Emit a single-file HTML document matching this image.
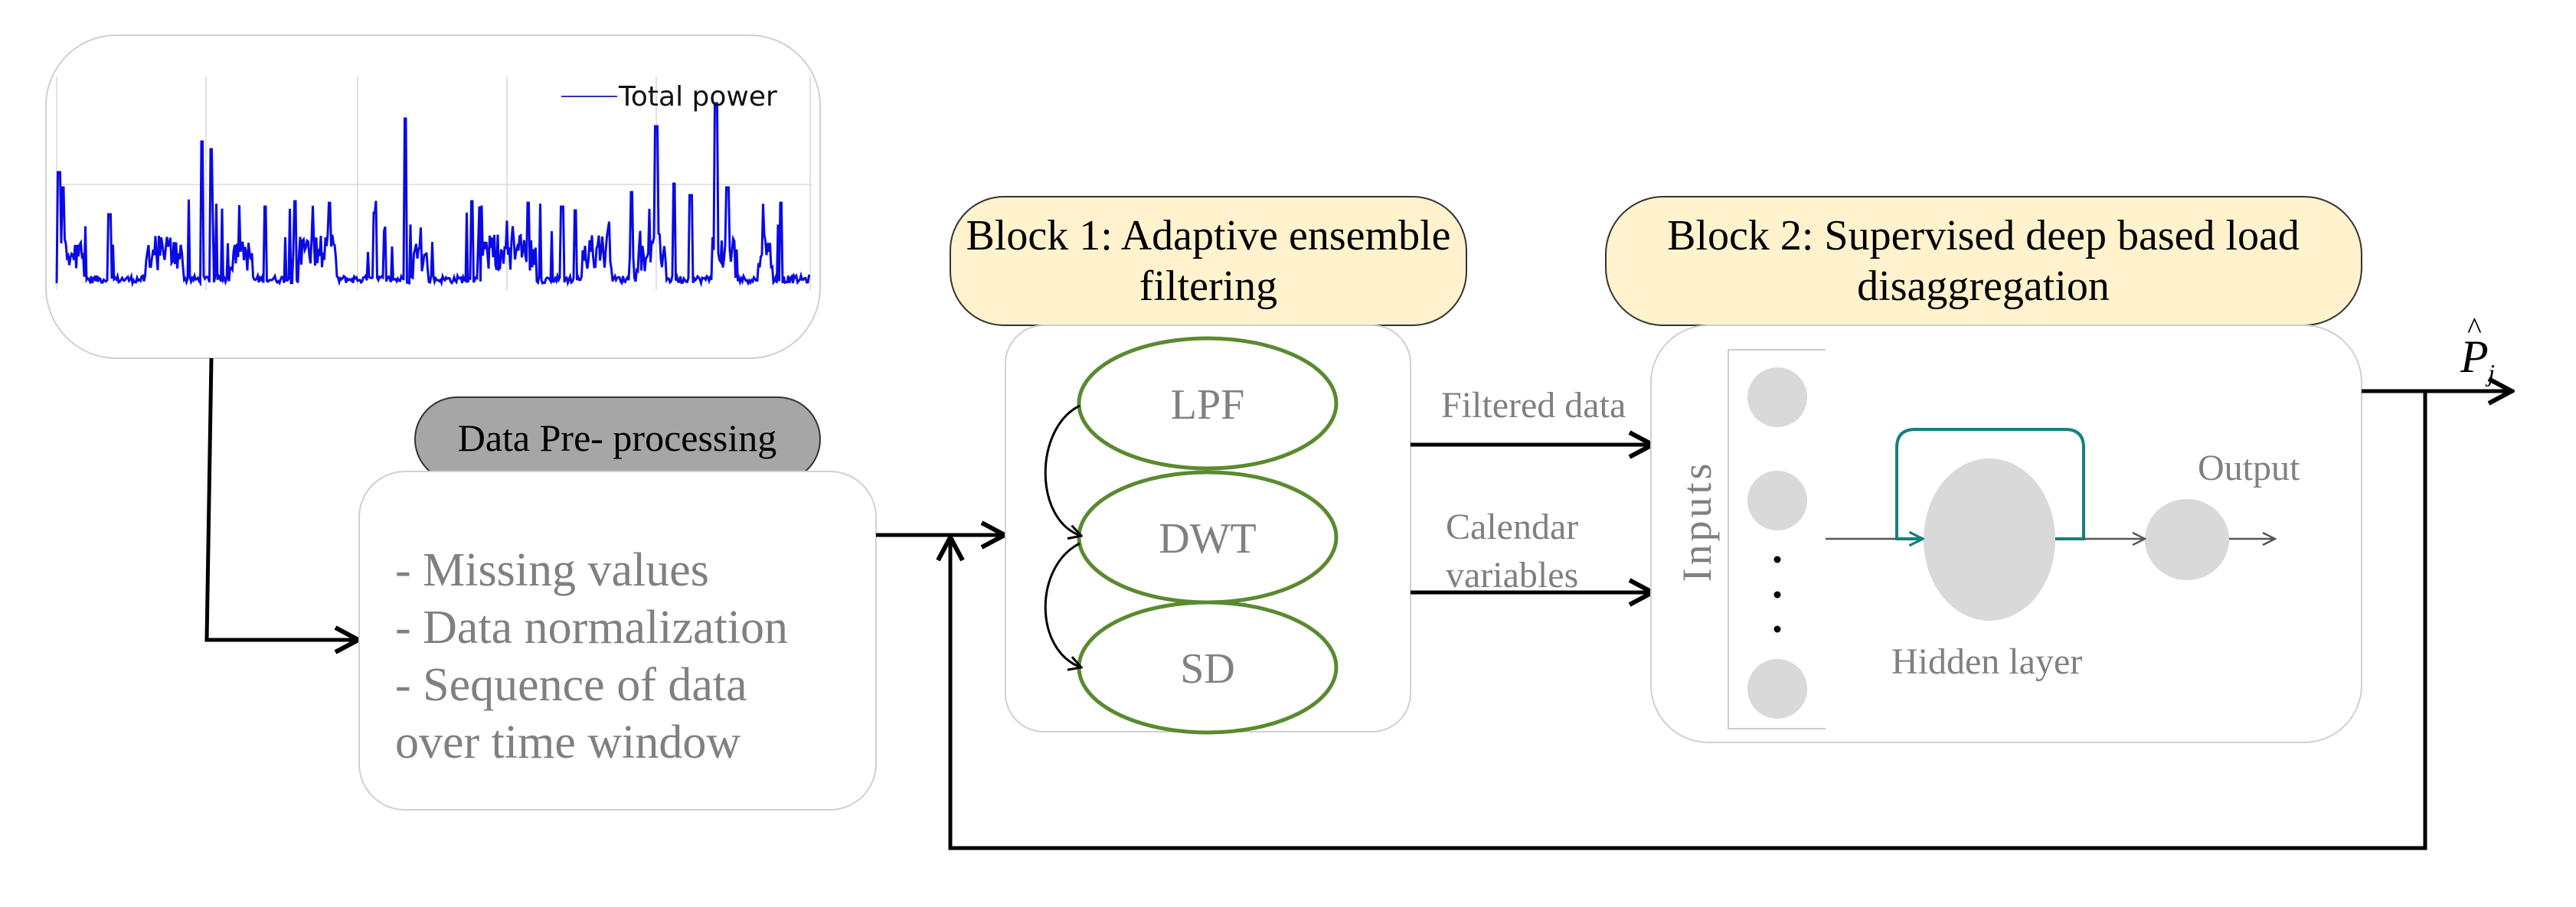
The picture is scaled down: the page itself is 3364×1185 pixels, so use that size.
<!DOCTYPE html>
<html><head><meta charset="utf-8"><style>
body{margin:0;background:#fff;}
svg text{font-family:"Liberation Serif",serif;}
</style></head><body>
<svg width="3364" height="1180" viewBox="0 0 3364 1180" xmlns="http://www.w3.org/2000/svg">
<defs>
<marker id="ah" viewBox="0 0 20 20" refX="18" refY="10" markerWidth="20" markerHeight="20" markerUnits="userSpaceOnUse" orient="auto"><path d="M2,1 L18,10 L2,19" fill="none" stroke="#000" stroke-width="3"/></marker>
<marker id="ahb" viewBox="0 0 40 40" refX="36" refY="20" markerWidth="40" markerHeight="40" markerUnits="userSpaceOnUse" orient="auto"><path d="M6,4 L36,20 L6,36" fill="none" stroke="#000" stroke-width="6"/></marker>
<marker id="ahg" viewBox="0 0 20 20" refX="18" refY="10" markerWidth="20" markerHeight="20" markerUnits="userSpaceOnUse" orient="auto"><path d="M2,2 L18,10 L2,18" fill="none" stroke="#555" stroke-width="2.5"/></marker>
<marker id="aht" viewBox="0 0 20 20" refX="18" refY="10" markerWidth="22" markerHeight="22" markerUnits="userSpaceOnUse" orient="auto"><path d="M2,2 L18,10 L2,18" fill="none" stroke="#138080" stroke-width="3"/></marker>
</defs>

<rect x="60" y="46" width="1011" height="422" rx="92" fill="#fff" stroke="#d0d0d0" stroke-width="2"/>
<g stroke="#d8d8d8" stroke-width="1.5">
<line x1="74" y1="100" x2="74" y2="379"/><line x1="269" y1="100" x2="269" y2="379"/><line x1="467" y1="100" x2="467" y2="379"/><line x1="662" y1="100" x2="662" y2="379"/><line x1="857" y1="100" x2="857" y2="379"/><line x1="1058" y1="100" x2="1058" y2="379"/>
<line x1="74" y1="241" x2="1060" y2="241"/>
</g>
<path id="sig" fill="none" stroke="#0a0ae6" stroke-width="3"/>
<line x1="733" y1="126" x2="806" y2="126" stroke="#3535b0" stroke-width="2"/>
<text x="808" y="138" style="font-family:'DejaVu Sans',sans-serif" font-size="36" fill="#111">Total power</text>

<path d="M276,468 L270,836 L468,836" fill="none" stroke="#000" stroke-width="5" marker-end="url(#ahb)"/>

<rect x="542" y="519" width="529" height="110" rx="55" fill="#a6a6a6" stroke="#333" stroke-width="2"/>
<text x="806" y="589" font-size="50" text-anchor="middle" fill="#000">Data Pre- processing</text>
<rect x="469" y="616" width="675" height="442" rx="60" fill="#fff" stroke="#d0d0d0" stroke-width="2"/>
<g font-size="62" fill="#808080">
<text x="516" y="765">- Missing values</text>
<text x="516" y="840">- Data normalization</text>
<text x="516" y="915">- Sequence of data</text>
<text x="516" y="990">over time window</text>
</g>

<path d="M1144,699 L1312,699" fill="none" stroke="#000" stroke-width="5" marker-end="url(#ahb)"/>
<path d="M3167,512 L3167,1108 L1241,1108 L1241,702" fill="none" stroke="#000" stroke-width="5" marker-end="url(#ahb)"/>

<rect x="1241" y="257" width="674" height="168" rx="70" fill="#fff2cc" stroke="#333" stroke-width="2"/>
<text x="1578" y="326" font-size="56" text-anchor="middle" fill="#000">Block 1: Adaptive ensemble</text>
<text x="1578" y="392" font-size="56" text-anchor="middle" fill="#000">filtering</text>
<rect x="1313" y="425" width="529" height="531" rx="50" fill="#fff" stroke="#d0d0d0" stroke-width="2"/>
<g fill="#fff" stroke="#5a8a30" stroke-width="5">
<ellipse cx="1577" cy="527" rx="168" ry="85"/>
<ellipse cx="1577" cy="702" rx="168" ry="85"/>
<ellipse cx="1577" cy="872" rx="168" ry="85"/>
</g>
<g font-size="56" fill="#808080" text-anchor="middle">
<text x="1577" y="547">LPF</text><text x="1577" y="722">DWT</text><text x="1577" y="892">SD</text>
</g>
<path d="M1410,530 C1350,560 1350,680 1412,700" fill="none" stroke="#000" stroke-width="3" marker-end="url(#ah)"/>
<path d="M1410,710 C1350,740 1350,850 1412,872" fill="none" stroke="#000" stroke-width="3" marker-end="url(#ah)"/>

<path d="M1842,581 L2158,581" stroke="#000" stroke-width="5" marker-end="url(#ahb)"/>
<path d="M1842,774 L2158,774" stroke="#000" stroke-width="5" marker-end="url(#ahb)"/>
<g font-size="48" fill="#808080">
<text x="1882" y="545">Filtered data</text>
<text x="1888" y="704">Calendar</text>
<text x="1888" y="767">variables</text>
</g>

<rect x="2097" y="257" width="987" height="168" rx="75" fill="#fff2cc" stroke="#333" stroke-width="2"/>
<text x="2590" y="326" font-size="56" text-anchor="middle" fill="#000">Block 2: Supervised deep based load</text>
<text x="2590" y="392" font-size="56" text-anchor="middle" fill="#000">disaggregation</text>
<rect x="2156" y="425" width="928" height="545" rx="75" fill="#fff" stroke="#d0d0d0" stroke-width="2"/>
<path d="M2384,457 L2257,457 L2257,952 L2384,952" fill="none" stroke="#ccc" stroke-width="2"/>
<g fill="#d9d9d9">
<ellipse cx="2321" cy="519" rx="39" ry="39"/><ellipse cx="2321" cy="654" rx="39" ry="39"/><ellipse cx="2321" cy="900" rx="39" ry="39"/>
<ellipse cx="2598" cy="705" rx="86" ry="106"/>
<ellipse cx="2856" cy="705" rx="55" ry="53"/>
</g>
<g fill="#000"><circle cx="2321" cy="731" r="4.5"/><circle cx="2321" cy="777" r="4.5"/><circle cx="2321" cy="822" r="4.5"/></g>
<text transform="translate(2234,681) rotate(-90)" font-size="54" letter-spacing="4" fill="#808080" text-anchor="middle">Inputs</text>
<path d="M2384,704 L2511,704" stroke="#555" stroke-width="2.5" marker-end="url(#ahg)"/>
<path d="M2684,704 L2721,704 L2721,585 Q2721,561 2697,561 L2501,561 Q2477,561 2477,585 L2477,704 L2511,704" fill="none" stroke="#138080" stroke-width="4" marker-end="url(#aht)"/>
<path d="M2721,704 L2801,704" stroke="#555" stroke-width="2.5" marker-end="url(#ahg)"/>
<path d="M2911,704 L2971,704" stroke="#555" stroke-width="2.5" marker-end="url(#ahg)"/>
<text x="2870" y="627" font-size="48" fill="#808080">Output</text>
<text x="2470" y="880" font-size="48" fill="#808080">Hidden layer</text>

<path d="M3084,511 L3280,511" stroke="#000" stroke-width="5" marker-end="url(#ahb)"/>
<text x="3213" y="486" font-size="60" font-style="italic" fill="#000">P</text>
<text x="3222" y="442" font-size="40" fill="#000">^</text>
<text x="3249" y="498" font-size="32" font-style="italic" fill="#000">j</text>
</svg>
<script>
(function(){
var s=12345;function r(){s=(s*1103515245+12345)%2147483648;return s/2147483648;}
var base=370,d="M74,"+base;
var pk=[[77,200],[82,220],[143,255],[264,160],[276,170],[346,245],[385,238],[430,240],[489,253],[529,130],[616,238],[690,240],[734,245],[751,250],[825,226],[857,140],[880,215],[902,230],[935,110],[950,220],[1020,240]];
var bursts=[[74,110],[190,240],[300,330],[390,440],[540,560],[630,700],[760,800],[830,870],[930,960],[990,1010]];
var x=74;
while(x<1058){
  x+=1.5;
  var y=base-r()*10;
  var inb=false;for(var b=0;b<bursts.length;b++){if(x>bursts[b][0]&&x<bursts[b][1])inb=true;}
  if(inb) y=base-15-r()*50;
  if(r()<0.08) y=base-30-r()*80;
  for(var i=0;i<pk.length;i++){ if(Math.abs(pk[i][0]-x)<1.6) y=pk[i][1]+25; }
  d+=" L"+x.toFixed(1)+","+y.toFixed(1);
}
document.getElementById("sig").setAttribute("d",d);
})();
</script>
</body></html>
